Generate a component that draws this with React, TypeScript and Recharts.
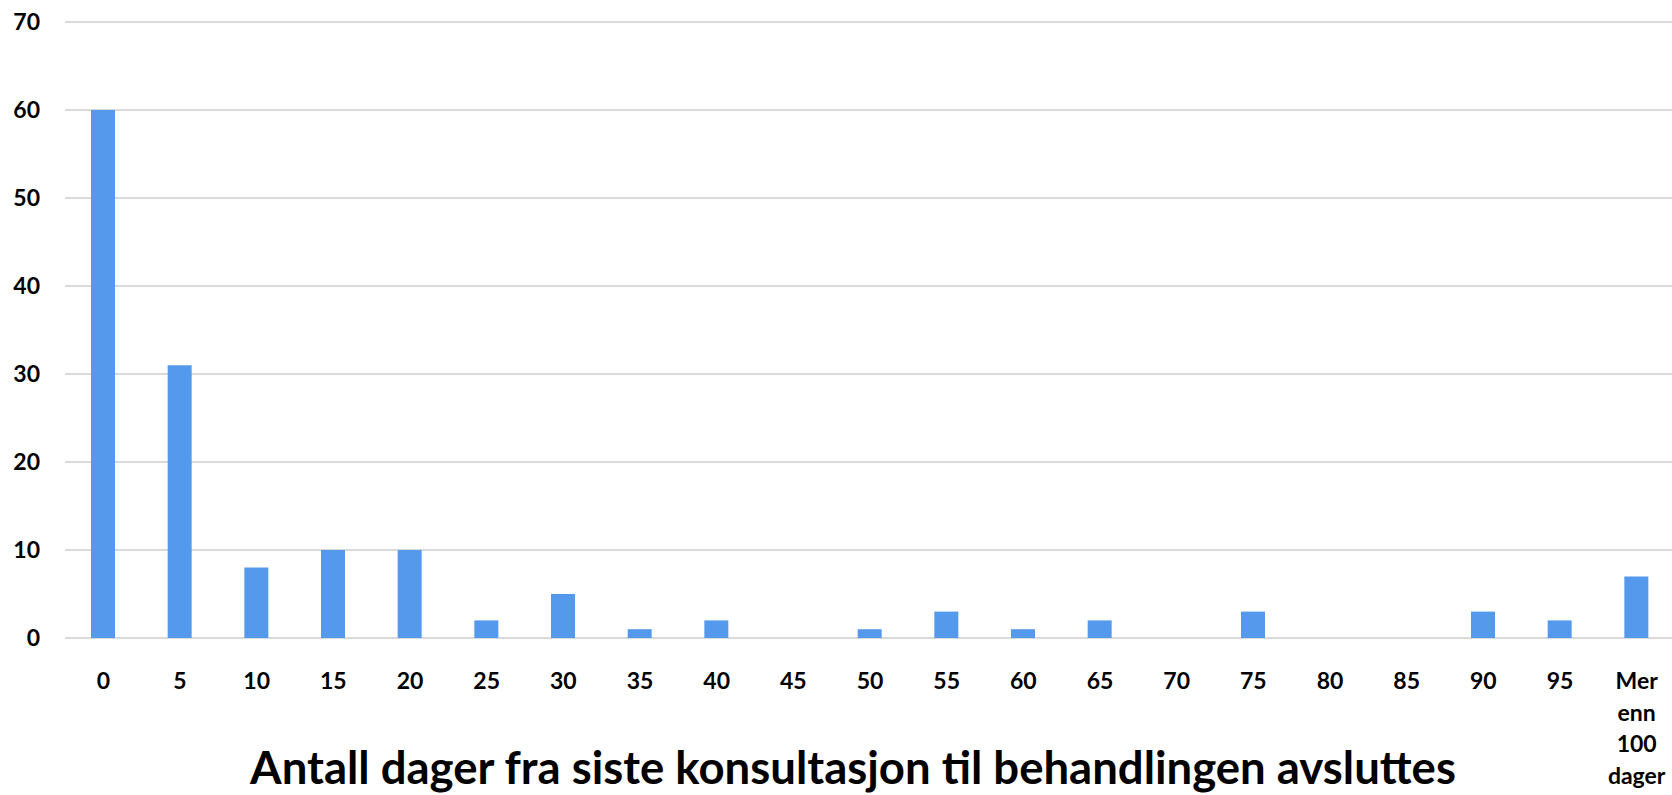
import React from "react";
import { BarChart, Bar, XAxis, YAxis, CartesianGrid } from "recharts";

const categories = ["0","5","10","15","20","25","30","35","40","45","50","55","60","65","70","75","80","85","90","95","Mer enn 100 dager"];
const counts = [60,31,8,10,10,2,5,1,2,0,1,3,1,2,0,3,0,0,3,2,7];
const yTicks = [0,10,20,30,40,50,60,70];
const title = "Antall dager fra siste konsultasjon til behandlingen avsluttes";

const data = categories.map((c, i) => ({ cat: c, value: counts[i] }));

const FONT = "Lato, 'Open Sans', sans-serif";

const XTick = (props: any) => {
  const { x, y, payload } = props;
  const val: string = payload.value;
  const lines = val === "Mer enn 100 dager" ? ["Mer", "enn", "100", "dager"] : [val];
  return (
    <g>
      {lines.map((l, i) => (
        <text key={i} x={x} y={y + 43 + i * 31.5} textAnchor="middle" fontFamily={FONT} fontWeight={700} fontSize={23} fill="#000">
          {l}
        </text>
      ))}
    </g>
  );
};

export default function App() {
  return (
    <div style={{ position: "absolute", left: 0, top: 0, width: 1672, height: 795, overflow: "hidden", background: "#fff" }}>
      <BarChart width={1672} height={795} data={data} margin={{ top: 22, right: -3, bottom: 0, left: 0 }} barSize={24}>
        <CartesianGrid vertical={false} stroke="#d9d9d9" strokeWidth={2} />
        <XAxis dataKey="cat" height={157} axisLine={false} tickLine={false} interval={0} tick={<XTick />} />
        <YAxis width={65} domain={[0, 70]} ticks={yTicks} axisLine={false} tickLine={false} tickSize={0} tickMargin={25}
          tick={{ fontFamily: FONT, fontWeight: 700, fontSize: 23, fill: "#000" }} />
        <Bar dataKey="value" fill="#5599EC" isAnimationActive={false} />
      </BarChart>
      <div style={{ position: "absolute", left: 0, width: 1706, top: 737, textAlign: "center", fontFamily: FONT, fontWeight: 700, fontSize: 45.5, lineHeight: "60px", color: "#000", whiteSpace: "nowrap" }}>
        {title}
      </div>
    </div>
  );
}
